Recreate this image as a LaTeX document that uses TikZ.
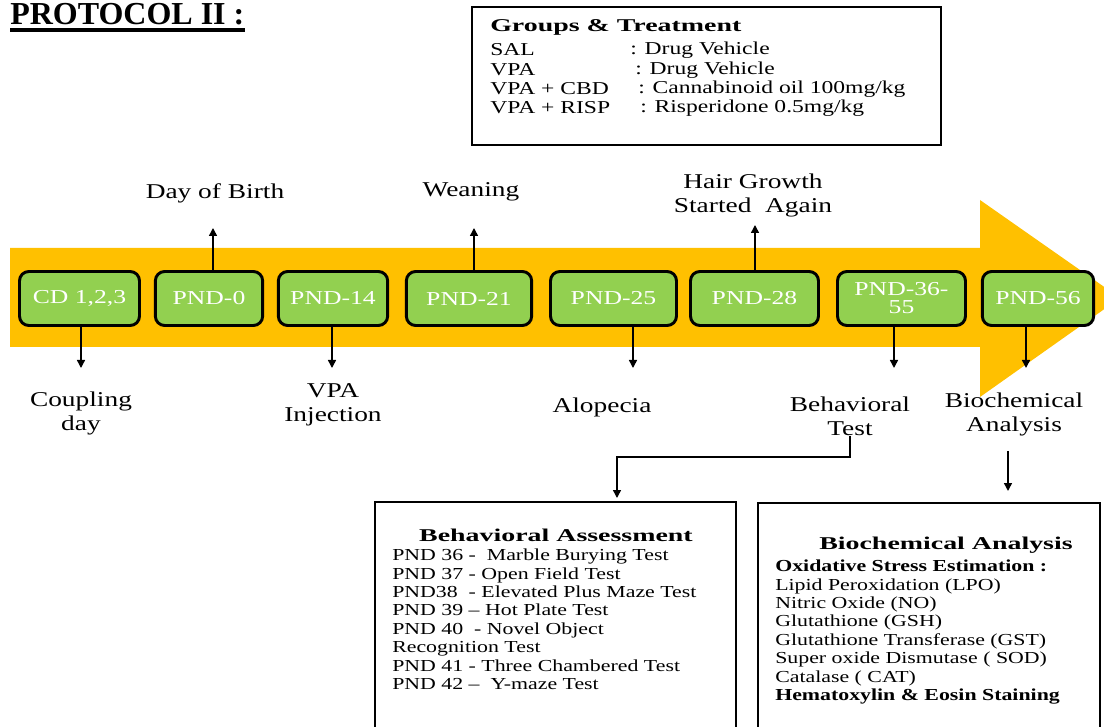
\documentclass[tikz,border=0pt]{standalone}
\usepackage{fontspec}
\setmainfont{Liberation Serif}
\newfontfamily\wide{Liberation Serif}[FakeStretch=1.3]
\newfontfamily\wider{Liberation Serif}[FakeStretch=1.55]
\usetikzlibrary{arrows.meta,fit}
\definecolor{timeline}{HTML}{FFC000}
\definecolor{stagegreen}{HTML}{92D050}

\begin{document}
\begin{tikzpicture}[x=0.75pt,y=-0.75pt,
	stage/.style={draw=black,line width=2.2pt,rounded corners=7pt,fill=stagegreen,text=white,minimum height=40.5pt,inner sep=1pt,align=center,font=\wide\fontsize{14.8}{13.5}\selectfont},
	event/.style={inner sep=0pt,align=center,font=\wide\fontsize{15.8}{18}\selectfont},
	tick/.style={line width=1.1pt,-{Triangle[length=6pt,width=6pt]}},
	panel/.style={draw=black,line width=2pt,inner sep=0pt},
	heading/.style={inner sep=0pt,font=\wider\bfseries\fontsize{13.5}{16}\selectfont},
	grouprow/.style={inner sep=0pt,anchor=west,font=\wide\fontsize{13.6}{16}\selectfont},
	entry/.style={inner sep=0pt,align=left,anchor=north west,font=\wide\fontsize{12.6}{13.76}\selectfont}]
	\useasboundingbox (0,0) rectangle (1104,727);
	\clip (0,0) rectangle (1104,727);
	
	\node[anchor=base west,inner sep=0pt,font=\bfseries\fontsize{24}{28}\selectfont] (protocol) at (10,25) {PROTOCOL II :};
	\draw[line width=3pt] ([yshift=-4.1pt]protocol.base west) -- ([yshift=-4.1pt]protocol.base east);
	
	\node[panel,fit={(472,7) (941,145)}] (groups) {};
	\node[heading,anchor=west] (gtitle) at (490,27) {Groups \& Treatment};
	\node[grouprow] (gsal) at (490,50) {SAL};
	\node[grouprow] (gsaltxt) at (630,50) {: Drug Vehicle};
	\node[grouprow] (gvpa) at (490,70) {VPA};
	\node[grouprow] (gvpatxt) at (635,70) {: Drug Vehicle};
	\node[grouprow] (gcbd) at (490,89) {VPA + CBD};
	\node[grouprow] (gcbdtxt) at (638,89) {: Cannabinoid oil 100mg/kg};
	\node[grouprow] (grisp) at (490,108) {VPA + RISP};
	\node[grouprow] (grisptxt) at (640,108) {: Risperidone 0.5mg/kg};
	
	\fill[timeline] (10,248) -- (980,248) -- (980,200) -- (1120,298) -- (980,397) -- (980,347) -- (10,347) -- cycle;
	
	\node[stage,minimum width=90pt] (cd) at (79.5,298.5) {CD 1,2,3};
	\node[stage,minimum width=80.5pt] (p0) at (209,298.5) {PND-0};
	\node[stage,minimum width=82pt] (p14) at (333,298.5) {PND-14};
	\node[stage,minimum width=94pt] (p21) at (469,298.5) {PND-21};
	\node[stage,minimum width=94.5pt] (p25) at (613.5,298.5) {PND-25};
	\node[stage,minimum width=96pt] (p28) at (754.5,298.5) {PND-28};
	\node[stage,minimum width=96pt] (p36) at (901.5,298.5) {PND-36-\\55};
	\node[stage,minimum width=83.5pt] (p56) at (1038,298.5) {PND-56};
	
	\node[event] (birth) at (215,193) {Day of Birth};
	\node[event] (wean) at (471,192) {Weaning};
	\node[event] (hair) at (753,195) {Hair Growth\\Started\ \ Again};
	\node[event] (coupling) at (81,413) {Coupling\\day};
	\node[event] (vpainj) at (333,405) {VPA\\Injection};
	\node[event] (alopecia) at (602,407) {Alopecia};
	\node[event] (btest) at (850,416) {Behavioral\\Test};
	\node[event] (banal) at (1014,414) {Biochemical\\Analysis};
	
	\coordinate (ubirth) at (213,228);
	\coordinate (uwean) at (474,228);
	\coordinate (uhair) at (755,225);
	\coordinate (dcd) at (81,368);
	\coordinate (dvpa) at (332,368);
	\coordinate (dalo) at (633,368);
	\coordinate (dbeh) at (894,368);
	\coordinate (dbio) at (1026,368);
	\draw[tick] (p0.north -| ubirth) -- (ubirth);
	\draw[tick] (p21.north -| uwean) -- (uwean);
	\draw[tick] (p28.north -| uhair) -- (uhair);
	\draw[tick] (cd.south -| dcd) -- (dcd);
	\draw[tick] (p14.south -| dvpa) -- (dvpa);
	\draw[tick] (p25.south -| dalo) -- (dalo);
	\draw[tick] (p36.south -| dbeh) -- (dbeh);
	\draw[tick] (p56.south -| dbio) -- (dbio);
	
	\node[panel,fit={(375,502) (736,760)}] (bassess) {};
	\node[panel,fit={(758,503) (1100,760)}] (bchem) {};
	\coordinate (bturn) at (617,457);
	\coordinate (bdrop) at (1008,451);
	\draw[tick,shorten >=2pt] (btest.south) |- (bturn) -- (bassess.north -| bturn);
	\draw[tick,shorten >=8pt] (bdrop) -- (bchem.north -| bdrop);
	
	\node[heading] (btitle) at (556,535) {Behavioral Assessment};
	\node[entry] (blist) at (392,549) {PND 36 -\ \ Marble Burying Test\\PND 37 - Open Field Test\\PND38\ \ - Elevated Plus Maze Test\\PND 39 – Hot Plate Test\\PND 40\ \ - Novel Object\\Recognition Test\\PND 41 - Three Chambered Test\\PND 42 –\ \ Y-maze Test};
	\node[heading] (bctitle) at (946,545) {Biochemical Analysis};
	\node[entry] (bclist) at (775,560) {\textbf{Oxidative Stress Estimation :}\\Lipid Peroxidation (LPO)\\Nitric Oxide (NO)\\Glutathione (GSH)\\Glutathione Transferase (GST)\\Super oxide Dismutase ( SOD)\\Catalase ( CAT)\\\textbf{Hematoxylin \& Eosin Staining}};
\end{tikzpicture}
\end{document}
